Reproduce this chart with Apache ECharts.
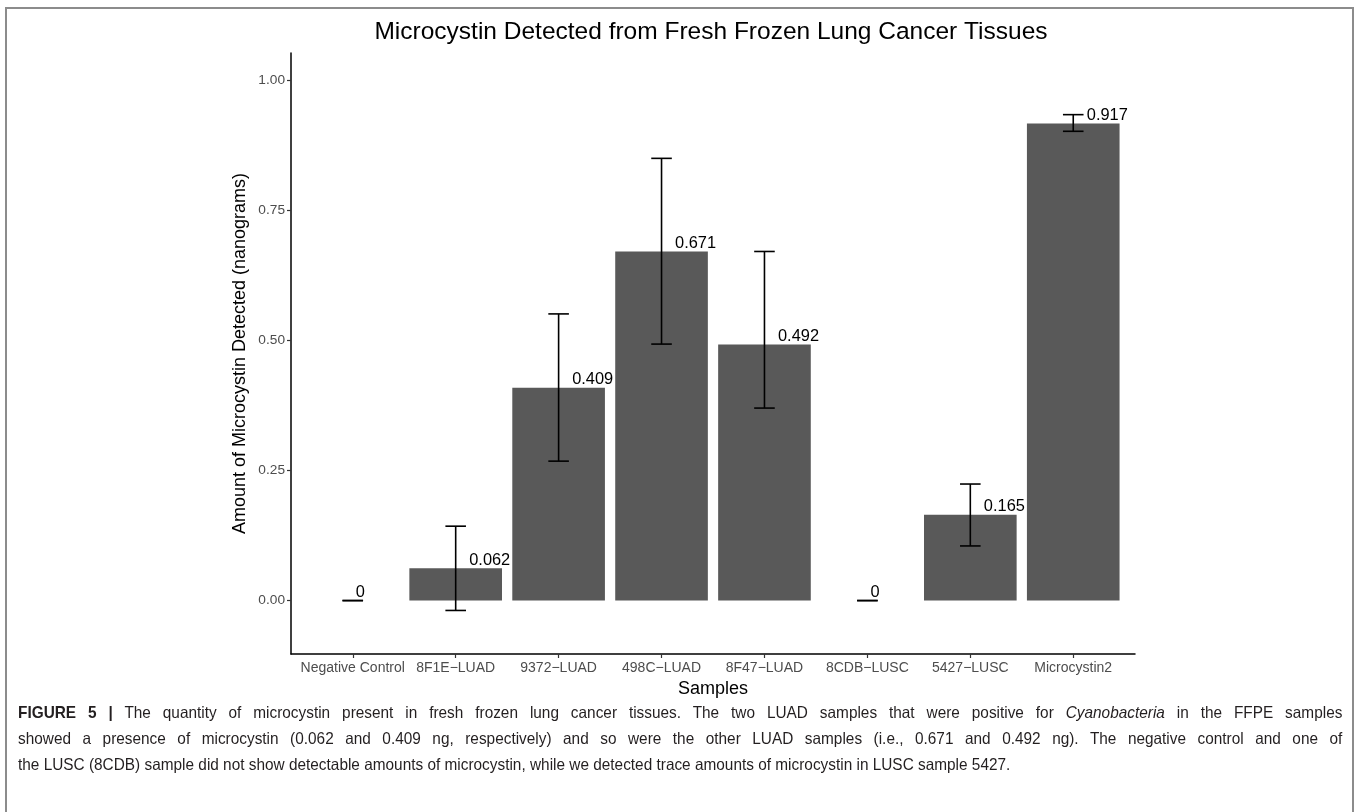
<!DOCTYPE html>
<html>
<head>
<meta charset="utf-8">
<script src="https://cdn.jsdelivr.net/npm/echarts@6/dist/echarts.min.js"></script>
<style>
  html, body { margin: 0; padding: 0; background: #fff; }
  #frame { position: absolute; left: 5px; top: 7px; width: 1349px; height: 820px;
           border: 2px solid #8c8c8c; border-bottom: none; box-sizing: border-box; }
  #chart { position: absolute; left: 0; top: 0; width: 1360px; height: 812px; }
  .cap { position: absolute; left: 18px; width: 1421px; height: 26px; line-height: 26px;
         transform: scaleX(0.932); transform-origin: 0 0;
         font-family: "Liberation Sans", Arial, sans-serif; font-size: 16.5px; color: #231f20; }
  .just { text-align: justify; text-align-last: justify; }
</style>
</head>
<body>
<div id="chart"></div>
<div id="frame"></div>
<div class="cap just" style="top:699px"><b>FIGURE 5 |</b> The quantity of microcystin present in fresh frozen lung cancer tissues. The two LUAD samples that were positive for <i>Cyanobacteria</i> in the FFPE samples</div>
<div class="cap just" style="top:725px">showed a presence of microcystin (0.062 and 0.409 ng, respectively) and so were the other LUAD samples (i.e., 0.671 and 0.492 ng). The negative control and one of</div>
<div class="cap" style="top:751px">the LUSC (8CDB) sample did not show detectable amounts of microcystin, while we detected trace amounts of microcystin in LUSC sample 5427.</div>
<script>
// Samples and measured microcystin amounts (ng) with error bar bounds
const categories = ['Negative Control', '8F1E\u2212LUAD', '9372\u2212LUAD', '498C\u2212LUAD',
                    '8F47\u2212LUAD', '8CDB\u2212LUSC', '5427\u2212LUSC', 'Microcystin2'];
const amounts   = [0, 0.062, 0.409, 0.671, 0.492, 0, 0.165, 0.917];
const errLower  = [0, -0.019, 0.268, 0.493, 0.370, 0, 0.105, 0.902];
const errUpper  = [0, 0.143, 0.551, 0.850, 0.671, 0, 0.224, 0.934];
const amountLabels = ['0', '0.062', '0.409', '0.671', '0.492', '0', '0.165', '0.917'];
const yTicks = [0, 0.25, 0.5, 0.75, 1.0];

const FONT = '"Liberation Sans", Arial, sans-serif';
const LABEL_SIZE = 16.4;

const measureCtx = document.createElement('canvas').getContext('2d');
measureCtx.font = LABEL_SIZE + 'px ' + FONT;
function textWidth(s) { return measureCtx.measureText(s).width; }

const rows = categories.map((c, i) => [i, amounts[i], errLower[i], errUpper[i]]);

const GRID = { left: 291, top: 53, width: 844, height: 601 };

const chart = echarts.init(document.getElementById('chart'), null, { renderer: 'canvas' });

chart.setOption({
  animation: false,
  backgroundColor: 'transparent',
  grid: Object.assign({ containLabel: false }, GRID),
  graphic: [{
    type: 'text', x: 711, y: 32,
    style: { text: 'Microcystin Detected from Fresh Frozen Lung Cancer Tissues',
             font: '24.5px ' + FONT, fill: '#000', textAlign: 'center', textVerticalAlign: 'middle' }
  }, {
    type: 'text', x: 240, y: GRID.top + GRID.height / 2, rotation: Math.PI / 2,
    style: { text: 'Amount of Microcystin Detected (nanograms)',
             font: '18px ' + FONT, fill: '#000', textAlign: 'center', textVerticalAlign: 'middle' }
  }],
  xAxis: {
    type: 'value', min: -0.6, max: 7.6,
    name: 'Samples', nameLocation: 'middle', nameGap: 25,
    nameTextStyle: { fontFamily: FONT, fontSize: 18, color: '#000' },
    splitLine: { show: false },
    axisLine: { show: true, onZero: false, lineStyle: { color: '#000', width: 1.5 } },
    axisTick: { show: true, length: 4, customValues: [0, 1, 2, 3, 4, 5, 6, 7],
                lineStyle: { color: '#333', width: 1.2 } },
    axisLabel: { customValues: [0, 1, 2, 3, 4, 5, 6, 7], margin: 7,
                 fontFamily: FONT, fontSize: 14, color: '#4d4d4d',
                 formatter: v => categories[Math.round(v)] }
  },
  yAxis: {
    type: 'value', min: -0.1027, max: 1.0525,
    splitLine: { show: false },
    axisLine: { show: true, onZero: false, lineStyle: { color: '#000', width: 1.5 } },
    axisTick: { show: true, length: 4, customValues: yTicks, lineStyle: { color: '#333', width: 1.2 } },
    axisLabel: { customValues: yTicks, margin: 6, fontFamily: FONT, fontSize: 13.7, color: '#4d4d4d',
                 formatter: v => v.toFixed(2) }
  },
  series: [
    {
      // bars
      type: 'custom', data: rows, encode: { x: 0, y: 1 },
      renderItem: (params, api) => {
        const i = api.value(0), v = api.value(1);
        const w = api.size([0.9, 0])[0];
        const top = api.coord([i, v]);
        const base = api.coord([i, 0]);
        if (Math.abs(base[1] - top[1]) < 0.01) return null;
        return { type: 'rect', shape: { x: top[0] - w / 2, y: Math.min(top[1], base[1]), width: w, height: Math.abs(base[1] - top[1]) },
                 style: { fill: '#595959' } };
      }
    },
    {
      // error bars
      type: 'custom', data: rows, encode: { x: 0, y: [2, 3] }, z: 3,
      renderItem: (params, api) => {
        const i = api.value(0);
        const lo = api.coord([i, api.value(2)]);
        const hi = api.coord([i, api.value(3)]);
        const hw = api.size([0.1, 0])[0];
        const st = { stroke: '#000', lineWidth: 1.6 };
        return { type: 'group', children: [
          { type: 'line', shape: { x1: hi[0], y1: hi[1], x2: lo[0], y2: lo[1] }, style: st },
          { type: 'line', shape: { x1: hi[0] - hw, y1: hi[1], x2: hi[0] + hw, y2: hi[1] }, style: st },
          { type: 'line', shape: { x1: lo[0] - hw, y1: lo[1], x2: lo[0] + hw, y2: lo[1] }, style: st }
        ] };
      }
    },
    {
      // value labels
      type: 'custom', data: rows, encode: { x: 0, y: 1 }, z: 4,
      renderItem: (params, api) => {
        const i = api.value(0);
        const p = api.coord([i, api.value(1)]);
        const txt = amountLabels[params.dataIndex];
        return { type: 'text', x: p[0] + 0.33 * textWidth(txt), y: p[1],
                 style: { text: txt, font: LABEL_SIZE + 'px ' + FONT, fill: '#000',
                          textAlign: 'left', textVerticalAlign: 'bottom' } };
      }
    }
  ]
});
</script>
</body>
</html>
